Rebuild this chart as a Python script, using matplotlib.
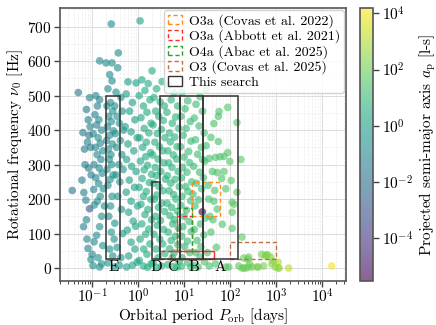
import matplotlib
matplotlib.use('Agg')
import matplotlib.pyplot as plt
from matplotlib.colors import LogNorm
from matplotlib.patches import Rectangle, Patch
from matplotlib.ticker import MultipleLocator, LogLocator, NullFormatter
import numpy as np

plt.rcParams.update({
    'font.family': 'serif',
    'font.serif': ['cmr10'],
    'mathtext.fontset': 'cm',
    'axes.formatter.use_mathtext': True,
    'font.size': 11,
})

# ---------------- data ----------------
P_left = [0.037, 0.050, 0.063, 0.066, 0.073, 0.068, 0.088, 0.077, 0.081, 0.100,
          0.088, 0.075, 0.082, 0.090, 0.085, 0.079, 0.092, 0.070, 0.083, 0.095,
          0.060, 0.075, 0.065, 0.110, 0.104, 0.094, 0.120, 0.145, 0.145, 0.130,
          0.115, 0.140, 0.125, 0.160, 0.105, 0.135, 0.150, 0.118, 0.170, 0.128,
          0.155, 0.110, 0.142, 0.165, 0.120, 0.138, 0.175, 0.108, 0.150, 0.130,
          0.185, 0.160, 0.112, 0.145, 0.125, 0.170, 0.135, 0.160, 0.145, 0.200,
          0.270, 0.260, 0.240, 0.270, 0.220, 0.250, 0.210, 0.280, 0.230, 0.260,
          0.215, 0.290, 0.240, 0.205, 0.275, 0.225, 0.255, 0.235, 0.265, 0.210,
          0.285, 0.245, 0.220, 0.270, 0.250, 0.230, 0.260, 0.300, 0.240, 0.280,
          0.220, 0.300, 0.370, 0.360, 0.330, 0.420, 0.310, 0.450, 0.350, 0.390,
          0.480, 0.320, 0.410, 0.340, 0.440, 0.380, 0.470, 0.330, 0.400, 0.360,
          0.430, 0.310, 0.460, 0.350, 0.420, 0.390]
nu_left = [225, 509, 393, 219, 197, 345, 172, 84, 57, 40,
           494, 460, 430, 410, 385, 365, 350, 300, 290, 270,
           255, 140, 120, 76, 7, 25, 500, 601, 488, 470,
           445, 430, 415, 400, 390, 378, 362, 350, 340, 329,
           315, 300, 290, 275, 262, 245, 230, 228, 208, 194,
           180, 150, 183, 120, 95, 65, 30, 12, 3, 595,
           595, 708, 561, 543, 520, 480, 470, 455, 440, 425,
           410, 398, 385, 370, 360, 345, 329, 315, 300, 286,
           270, 257, 240, 208, 180, 150, 104, 84, 55, 35,
           15, 3, 624, 581, 510, 495, 470, 455, 440, 420,
           400, 390, 370, 350, 329, 300, 286, 270, 250, 208,
           170, 130, 100, 60, 30, 8]
a_left = [0.025, 0.03, 0.04, 0.05, 0.06, 0.035, 0.002, 0.07, 0.06, 0.10,
          0.05, 0.03, 0.04, 0.06, 0.03, 0.045, 0.05, 0.06, 0.035, 0.05,
          0.05, 0.07, 0.06, 0.10, 0.12, 0.15, 0.07, 0.10, 0.06, 0.05,
          0.07, 0.12, 0.04, 0.10, 0.06, 0.15, 0.07, 0.05, 0.12, 0.10,
          0.06, 0.09, 0.07, 0.15, 0.05, 0.10, 0.12, 0.07, 0.15, 0.10,
          0.20, 0.15, 0.12, 0.18, 0.15, 0.20, 0.20, 0.25, 0.22, 0.10,
          0.15, 0.12, 0.12, 0.10, 0.15, 0.10, 0.12, 0.18, 0.10, 0.15,
          0.07, 0.20, 0.12, 0.10, 0.18, 0.15, 0.12, 0.20, 0.15, 0.18,
          0.22, 0.18, 0.20, 0.25, 0.22, 0.20, 0.25, 0.30, 0.25, 0.30,
          0.28, 0.35, 0.15, 0.18, 0.20, 0.25, 0.18, 0.30, 0.20, 0.25,
          0.35, 0.22, 0.28, 0.25, 0.32, 0.30, 0.40, 0.28, 0.35, 0.35,
          0.40, 0.30, 0.45, 0.40, 0.50, 0.50]

P_mid1 = [0.60, 0.90, 0.55, 0.75, 0.65, 0.85, 0.52, 0.70, 0.95, 0.60,
          0.80, 0.56, 0.72, 0.90, 0.64, 0.83, 0.55, 0.70, 0.97, 0.62,
          0.78, 0.88, 0.58, 0.70, 0.85, 0.62, 0.95, 0.56, 0.75,
          1.10, 1.20, 1.65, 1.40, 1.05, 1.80, 1.30, 1.55, 1.15, 1.90,
          1.35, 1.70, 1.08, 1.50, 1.25, 1.85, 1.45, 1.12, 1.60, 1.35,
          1.95, 1.22, 1.75, 1.05, 1.50, 1.30, 1.88, 1.15, 1.62, 1.40,
          1.95, 1.20, 1.70, 1.45, 1.10, 1.80, 1.32, 1.55, 1.06, 1.90,
          1.30, 1.60,
          2.00, 3.30, 2.50, 2.20, 3.00, 3.70, 2.40, 2.80, 3.50, 2.10,
          3.20, 2.60, 3.80, 2.30, 2.90, 3.40, 2.05, 2.70, 3.60, 2.35,
          3.10, 2.50, 3.90, 2.15, 2.85, 3.45, 2.55, 2.25, 3.25, 2.75,
          3.75, 2.40, 3.05, 2.60, 3.55, 2.20, 2.95, 3.40, 2.45, 3.80,
          2.70, 2.10, 3.20, 2.50]
nu_mid1 = [540, 537, 505, 480, 455, 430, 410, 395, 378, 360,
           340, 315, 295, 280, 255, 234, 220, 194, 180, 162,
           136, 121, 110, 75, 55, 35, 17, 3, 8,
           717, 546, 535, 515, 500, 488, 470, 452, 436, 420,
           405, 392, 378, 365, 350, 335, 323, 310, 298, 285,
           272, 260, 248, 234, 222, 208, 199, 185, 170, 155,
           140, 128, 113, 98, 84, 70, 55, 40, 22, 12,
           6, 2,
           572, 541, 520, 495, 482, 470, 455, 440, 428, 415,
           402, 390, 378, 365, 352, 340, 328, 316, 305, 292,
           280, 268, 258, 246, 236, 224, 212, 199, 188, 176,
           164, 150, 138, 124, 112, 98, 84, 70, 55, 42,
           30, 15, 6, 2]
a_mid1 = [0.6, 0.9, 0.7, 0.8, 0.8, 1.0, 0.7, 0.9, 1.2, 0.8,
          1.1, 0.8, 1.0, 1.3, 0.9, 1.2, 0.9, 1.1, 1.4, 1.0,
          1.3, 1.4, 0.9, 1.2, 1.5, 1.1, 1.6, 1.2, 1.3,
          1.5, 2.0, 2.5, 2.0, 1.6, 2.8, 2.2, 2.4, 1.8, 3.0,
          2.2, 2.6, 1.7, 2.5, 2.0, 3.0, 2.4, 1.8, 2.7, 2.2,
          3.2, 2.0, 2.9, 1.8, 2.5, 2.3, 3.1, 2.0, 2.8, 2.5,
          3.3, 2.2, 3.0, 2.6, 2.0, 3.2, 2.4, 2.8, 2.0, 3.5,
          2.5, 3.0,
          3.0, 4.0, 3.5, 3.2, 4.0, 4.5, 3.3, 3.8, 4.2, 3.0,
          4.0, 3.6, 4.6, 3.2, 3.9, 4.2, 3.0, 3.6, 4.5, 3.3,
          4.0, 3.5, 4.8, 3.1, 3.8, 4.3, 3.5, 3.2, 4.1, 3.7,
          4.6, 3.4, 4.0, 3.6, 4.4, 3.2, 3.9, 4.3, 3.5, 4.8,
          3.8, 3.1, 4.2, 3.6]

P_mid2 = [4.50, 6.00, 5.20, 7.20, 4.20, 6.50, 5.50, 7.60, 4.80, 6.20,
          5.00, 7.00, 4.40, 5.80, 6.80, 4.60, 5.40, 7.40, 4.30, 6.30,
          5.10, 7.80, 4.70, 5.90, 6.60, 4.25, 5.30, 7.10, 4.90, 6.10,
          5.60, 7.50, 4.50, 6.40, 5.20, 7.30, 4.80, 6.00, 5.50, 7.70,
          4.40, 5.80, 6.90,
          9.0, 12.0, 10.5, 8.5, 13.5, 11.0, 9.5, 14.0, 8.3, 12.5,
          10.0, 13.0, 9.2, 11.5, 8.7, 14.5, 10.8, 12.2, 9.0, 13.8,
          8.4, 11.2, 10.0, 12.8, 9.4, 14.2, 8.8, 11.8, 10.2, 13.2,
          9.0, 12.0, 8.6, 14.0,
          30.0, 22.0, 18.0, 25.0, 16.5, 21.0, 27.0, 17.5, 23.5, 19.5,
          28.0, 16.0, 21.5, 26.0, 18.5, 24.0, 15.5, 20.5, 24.7, 17.0,
          28.5, 22.5, 16.5, 26.5, 19.0, 23.0, 17.8, 22.0, 27.5, 16.0,
          20.0]
nu_mid2 = [530, 508, 488, 470, 452, 438, 420, 405, 392, 380,
           366, 352, 340, 328, 316, 305, 292, 280, 268, 257,
           246, 236, 224, 213, 200, 188, 176, 165, 152, 140,
           128, 116, 104, 92, 80, 68, 56, 44, 30, 18,
           10, 4, 2,
           510, 485, 462, 440, 425, 405, 385, 368, 352, 338,
           322, 306, 292, 278, 262, 250, 236, 222, 208, 195,
           182, 168, 150, 135, 120, 106, 92, 78, 62, 45,
           30, 15, 5, 3,
           517, 497, 475, 455, 435, 412, 392, 372, 350, 330,
           310, 295, 278, 262, 246, 230, 214, 198, 163, 180,
           145, 128, 112, 96, 80, 62, 45, 32, 18, 8,
           3]
a_mid2 = [5.0, 6.0, 5.5, 7.0, 4.8, 6.5, 5.8, 7.5, 5.2, 6.2,
          5.4, 7.0, 5.0, 6.0, 6.8, 5.0, 5.6, 7.2, 4.9, 6.4,
          5.5, 7.6, 5.1, 6.1, 6.7, 4.8, 5.6, 7.0, 5.3, 6.2,
          5.9, 7.4, 5.0, 6.5, 5.5, 7.2, 5.2, 6.1, 5.8, 7.6,
          5.0, 6.0, 6.8,
          9.0, 11.0, 10.0, 8.5, 12.0, 10.5, 9.2, 12.5, 8.4, 11.5,
          9.6, 12.0, 9.0, 10.8, 8.6, 13.0, 10.2, 11.2, 9.0, 12.5,
          8.5, 10.5, 9.6, 11.8, 9.2, 12.8, 8.8, 11.0, 9.8, 12.2,
          9.0, 11.0, 8.6, 12.5,
          20, 16, 14, 18, 13, 15, 19, 13, 17, 14,
          20, 12, 16, 19, 14, 18, 12, 15, 3e-6, 13,
          20, 16, 13, 19, 14, 17, 13, 16, 20, 12,
          15]

P_right = [57, 55, 44, 38, 55, 30, 25, 35, 48, 60,
           41, 52, 44, 52, 38, 33, 46, 36, 50, 32,
           35, 48, 42, 34,
           88, 140, 73, 88, 98, 73, 105, 140, 110, 67,
           110, 120, 110, 170, 180, 80, 93, 153, 65, 80]
nu_right = [454, 440, 419, 379, 367, 355, 315, 318, 321, 323,
            280, 277, 194, 171, 104, 240, 225, 150, 60, 45,
            6, 12, 140, 200,
            466, 422, 324, 335, 309, 280, 254, 220, 191, 127,
            115, 185, 162, 315, 90, 3, 3, 6, 260, 230]
a_right = [30, 28, 25, 22, 28, 20, 18, 21, 26, 30,
           24, 27, 25, 27, 22, 20, 26, 22, 27, 20,
           21, 26, 24, 21,
           40, 50, 35, 40, 42, 35, 45, 50, 45, 33,
           45, 48, 45, 60, 65, 38, 40, 55, 33, 38]

P_tail = [180, 196, 196, 250, 250, 240, 300, 380, 410, 480,
          530, 580, 600, 650, 750, 800, 870, 1100, 1100, 1150,
          1850, 16000, 220, 260, 950]
nu_tail = [0, 29, 0, 32, 3, 26, 3, 3, 3, 40,
           6, 35, 38, 38, 32, 12, 20, 17, 0, 0,
           0, 6, 0, 12, 3]
a_tail = [70, 80, 80, 100, 100, 95, 110, 130, 140, 160,
          170, 180, 190, 200, 230, 250, 270, 1000, 400, 450,
          1500, 12000, 90, 100, 300]

# searches: (P_min, P_max, nu_min, nu_max)
search_labels = ['O3a (Covas et al. 2022)', 'O3a (Abbott et al. 2021)',
                 'O4a (Abac et al. 2025)', 'O3 (Covas et al. 2025)', 'This search']
search_colors = ['#ff8c1a', '#ff2a2a', '#2ca02c', '#c0703d', '#333333']
covas22_box = [(15, 60, 150, 250)]
abbott21_box = [(3, 45, 25, 50), (5.2, 45, 25, 50), (7, 15, 50, 150)]
abac25_box = [(7, 15, 50, 175)]
covas25_box = [(100, 1000, 25, 75)]
this_boxes = [(0.2, 0.4, 25, 500), (2, 3, 25, 250), (3, 8, 25, 500),
              (8, 25, 25, 500), (25, 150, 25, 500)]
box_names = ['E', 'D', 'C', 'B', 'A']
box_label_x = [0.3, 2.5, 5.5, 16.5, 60]

# ---------------- figure ----------------
P = np.array(P_left + P_mid1 + P_mid2 + P_right + P_tail)
nu = np.array(nu_left + nu_mid1 + nu_mid2 + nu_right + nu_tail)
a = np.array(a_left + a_mid1 + a_mid2 + a_right + a_tail)

fig = plt.figure(figsize=(4.36, 3.25), dpi=100)
ax = fig.add_axes([0.1376, 0.136, 0.655, 0.838])
cax = fig.add_axes([0.826, 0.136, 0.030, 0.838])

norm = LogNorm(vmin=3e-6, vmax=1.5e4)
sc = ax.scatter(P, nu, c=a, cmap='viridis', norm=norm, s=30, alpha=0.62,
                edgecolors='none', zorder=2)

ax.set_xscale('log')
ax.set_xlim(0.02, 3.2e4)
ax.set_ylim(-37, 753)
ax.yaxis.set_major_locator(MultipleLocator(100))
ax.yaxis.set_minor_locator(MultipleLocator(50))
ax.xaxis.set_major_locator(LogLocator(base=10, numticks=20))
ax.xaxis.set_minor_locator(LogLocator(base=10, subs=np.arange(2, 10), numticks=100))
ax.xaxis.set_minor_formatter(NullFormatter())
ax.set_axisbelow(True)
ax.grid(True, which='major', color='#dcdcdc', lw=0.7)
ax.grid(True, which='minor', color='#ececec', lw=0.5, ls='--')
ax.tick_params(which='major', direction='out', length=4, width=1.0,
               color='#444444', pad=2, labelsize=11)
ax.tick_params(axis='x', which='major', pad=1)
ax.tick_params(which='minor', direction='out', length=2, width=0.7, color='#444444')
ax.tick_params(axis='y', which='minor', length=0)
for s in ax.spines.values():
    s.set_color('#555555')
    s.set_linewidth(1.2)


def draw_boxes(boxes, color, ls, lw):
    for (x0, x1, y0, y1) in boxes:
        ax.add_patch(Rectangle((x0, y0), x1 - x0, y1 - y0, fill=False,
                               edgecolor=color, linestyle=ls, lw=lw, zorder=4))


draw_boxes(covas22_box, search_colors[0], (0, (3, 2)), 1.0)
draw_boxes(abbott21_box, search_colors[1], (0, (3, 2)), 1.0)
draw_boxes(abac25_box, search_colors[2], (0, (3, 2)), 1.0)
draw_boxes(covas25_box, search_colors[3], (0, (3, 2)), 1.0)
draw_boxes(this_boxes, search_colors[4], '-', 1.1)

for name, xl in zip(box_names, box_label_x):
    ax.text(xl, 2, name, ha='center', va='center', fontsize=11, zorder=5)

handles = []
for i, (lab, col) in enumerate(zip(search_labels, search_colors)):
    handles.append(Patch(facecolor='none', edgecolor=col,
                         linestyle='-' if i == 4 else (0, (3, 2)), lw=1.0, label=lab))
leg = ax.legend(handles=handles, loc='upper right', fontsize=10, handlelength=1.0,
                handleheight=0.7, borderaxespad=0.1, labelspacing=0.12,
                framealpha=0.85, edgecolor='#cccccc', handletextpad=0.5,
                borderpad=0.3)
leg.set_zorder(6)

ax.set_xlabel(r'Orbital period $P_\mathrm{orb}$ [days]', fontsize=11, labelpad=0)
ax.set_ylabel(r'Rotational frequency $\nu_0$ [Hz]', fontsize=11, labelpad=2)

cb = fig.colorbar(sc, cax=cax)
cb.set_ticks([1e-4, 1e-2, 1, 1e2, 1e4])
cb.minorticks_off()
cb.outline.set_edgecolor('#555555')
cb.outline.set_linewidth(1.2)
cax.tick_params(direction='out', length=4, width=1.0, color='#444444', labelsize=11, pad=2)
cb.set_label(r'Projected semi-major axis $a_\mathrm{p}$ [l-s]', fontsize=11, labelpad=3)

fig.savefig('out.png', dpi=100)
